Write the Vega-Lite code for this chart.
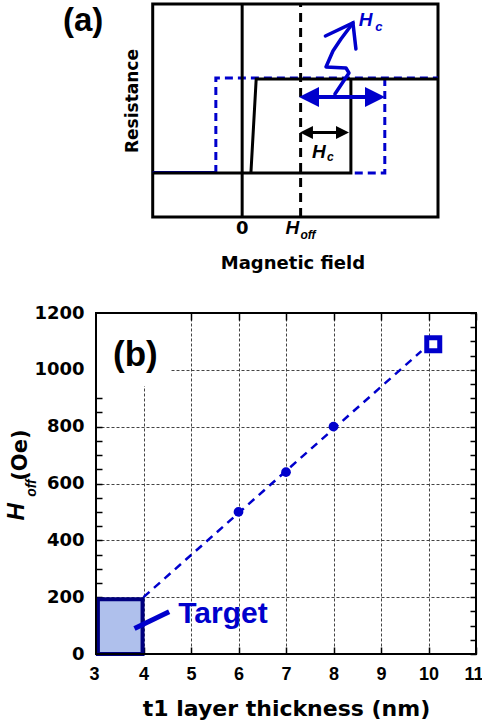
{
  "$schema": "https://vega.github.io/schema/vega-lite/v6.json",
  "background": "white",
  "padding": {"left": 4, "top": 2, "right": 0, "bottom": 4},
  "bounds": "flush",
  "spacing": 96,
  "config": {"view": {"stroke": null}},
  "vconcat": [
    {
      "width": 380,
      "height": 213,
      "encoding": {
        "x": {"field": "x", "type": "quantitative", "scale": {"domain": [-2.5, 4.0], "nice": false, "zero": false}, "axis": null},
        "y": {"field": "y", "type": "quantitative", "scale": {"domain": [-0.47, 1.8], "nice": false, "zero": false}, "axis": null}
      },
      "layer": [
        {
          "data": {"values": [{"x": -1.53, "x2": 3.35, "y": -0.47, "y2": 1.8}]},
          "mark": {"type": "rect", "fill": "transparent", "stroke": "black", "strokeWidth": 3},
          "encoding": {"x2": {"field": "x2"}, "y2": {"field": "y2"}}
        },
        {
          "data": {"values": [{"x": -1.53, "y": 0.008, "o": 1}, {"x": -0.45, "y": 0.008, "o": 2}]},
          "mark": {"type": "line", "color": "#0000cc", "strokeWidth": 2.5},
          "encoding": {"order": {"field": "o", "type": "quantitative"}}
        },
        {
          "data": {"values": [
            {"seg": "left", "o": 1, "x": -0.45, "y": 0.0},
            {"seg": "left", "o": 2, "x": -0.45, "y": 1.012},
            {"seg": "left", "o": 3, "x": 3.35, "y": 1.012},
            {"seg": "right", "o": 1, "x": 2.44, "y": 1.012},
            {"seg": "right", "o": 2, "x": 2.44, "y": 0.0},
            {"seg": "right", "o": 3, "x": 1.86, "y": 0.0}
          ]},
          "mark": {"type": "line", "color": "#0000cc", "strokeWidth": 3, "strokeDash": [8, 5]},
          "encoding": {"detail": {"field": "seg"}, "order": {"field": "o", "type": "quantitative"}}
        },
        {
          "data": {"values": [{"x": 0, "y": -0.47, "y2": 1.8}]},
          "mark": {"type": "rule", "color": "black", "strokeWidth": 3},
          "encoding": {"y2": {"field": "y2"}}
        },
        {
          "data": {"values": [{"x": 1, "y": -0.47, "y2": 1.8}]},
          "mark": {"type": "rule", "color": "black", "strokeWidth": 3, "strokeDash": [9, 6]},
          "encoding": {"y2": {"field": "y2"}}
        },
        {
          "data": {"values": [
            {"seg": "a", "o": 1, "x": -1.53, "y": 0},
            {"seg": "a", "o": 2, "x": 1.86, "y": 0},
            {"seg": "a", "o": 3, "x": 1.86, "y": 1},
            {"seg": "b", "o": 1, "x": 3.35, "y": 1},
            {"seg": "b", "o": 2, "x": 0.24, "y": 1},
            {"seg": "b", "o": 3, "x": 0.15, "y": 0}
          ]},
          "mark": {"type": "line", "color": "black", "strokeWidth": 3},
          "encoding": {"detail": {"field": "seg"}, "order": {"field": "o", "type": "quantitative"}}
        },
        {
          "data": {"values": [{"x": 1.1, "x2": 2.3, "y": 0.809}]},
          "mark": {"type": "rule", "color": "#0000cc", "strokeWidth": 4},
          "encoding": {"x2": {"field": "x2"}}
        },
        {
          "data": {"values": [{"x": 1.143, "y": 0.809}]},
          "mark": {"type": "point", "shape": "M1,-1L-1,0L1,1Z", "size": 400, "filled": true, "color": "#0000cc", "opacity": 1}
        },
        {
          "data": {"values": [{"x": 2.272, "y": 0.809}]},
          "mark": {"type": "point", "shape": "M-1,-1L1,0L-1,1Z", "size": 400, "filled": true, "color": "#0000cc", "opacity": 1}
        },
        {
          "data": {"values": [{"x": 1.08, "x2": 1.75, "y": 0.43}]},
          "mark": {"type": "rule", "color": "black", "strokeWidth": 3},
          "encoding": {"x2": {"field": "x2"}}
        },
        {
          "data": {"values": [{"x": 1.10, "y": 0.43}]},
          "mark": {"type": "point", "shape": "M1,-1L-1,0L1,1Z", "size": 169, "filled": true, "color": "black", "opacity": 1}
        },
        {
          "data": {"values": [{"x": 1.716, "y": 0.43}]},
          "mark": {"type": "point", "shape": "M-1,-1L1,0L-1,1Z", "size": 169, "filled": true, "color": "black", "opacity": 1}
        },
        {
          "data": {"values": [
            {"o": 1, "x": 1.587, "y": 0.841},
            {"o": 2, "x": 1.827, "y": 1.065},
            {"o": 3, "x": 1.776, "y": 1.118},
            {"o": 4, "x": 1.434, "y": 1.129},
            {"o": 5, "x": 1.553, "y": 1.299},
            {"o": 6, "x": 1.690, "y": 1.427},
            {"o": 7, "x": 1.895, "y": 1.598}
          ]},
          "mark": {"type": "line", "color": "#0000cc", "strokeWidth": 3.5, "strokeCap": "round", "strokeJoin": "round"},
          "encoding": {"order": {"field": "o", "type": "quantitative"}}
        },
        {
          "data": {"values": [
            {"o": 1, "x": 1.424, "y": 1.459},
            {"o": 2, "x": 1.895, "y": 1.598},
            {"o": 3, "x": 1.946, "y": 1.32}
          ]},
          "mark": {"type": "line", "color": "#0000cc", "strokeWidth": 3.5, "strokeCap": "round", "strokeJoin": "miter"},
          "encoding": {"order": {"field": "o", "type": "quantitative"}}
        },
        {
          "data": {"values": [{"label": "(a)", "x": -2.72, "y": 1.515}]},
          "mark": {"type": "text", "font": "Liberation Sans", "fontWeight": "bold", "fontSize": 33, "align": "center", "baseline": "alphabetic", "color": "black"},
          "encoding": {"text": {"field": "label"}}
        },
        {
          "data": {"values": [{"label": "Resistance", "x": -1.78, "y": 0.766}]},
          "mark": {"type": "text", "font": "DejaVu Sans", "fontWeight": "bold", "fontSize": 17, "angle": 270, "align": "center", "baseline": "alphabetic", "color": "black"},
          "encoding": {"text": {"field": "label"}}
        },
        {
          "data": {"values": [{"label": "0", "x": 0, "y": -0.651}, {"label": "Magnetic field", "x": 0.869, "y": -1.024}]},
          "mark": {"type": "text", "font": "DejaVu Sans", "fontWeight": "bold", "fontSize": 18, "align": "center", "baseline": "alphabetic", "color": "black"},
          "encoding": {"text": {"field": "label"}}
        },
        {
          "data": {"values": [{"label": "H", "x": 0.86, "y": -0.651}, {"label": "H", "x": 1.313, "y": 0.159}]},
          "mark": {"type": "text", "font": "Liberation Sans", "fontWeight": "bold", "fontStyle": "italic", "fontSize": 19, "align": "center", "baseline": "alphabetic", "color": "black"},
          "encoding": {"text": {"field": "label"}}
        },
        {
          "data": {"values": [{"label": "off", "x": 1.126, "y": -0.705}, {"label": "c", "x": 1.51, "y": 0.127}]},
          "mark": {"type": "text", "font": "Liberation Sans", "fontWeight": "bold", "fontStyle": "italic", "fontSize": 12, "align": "center", "baseline": "alphabetic", "color": "black"},
          "encoding": {"text": {"field": "label"}}
        },
        {
          "data": {"values": [{"label": "H", "x": 2.11, "y": 1.566}]},
          "mark": {"type": "text", "font": "Liberation Sans", "fontWeight": "bold", "fontStyle": "italic", "fontSize": 19, "align": "center", "baseline": "alphabetic", "color": "#0000cc"},
          "encoding": {"text": {"field": "label"}}
        },
        {
          "data": {"values": [{"label": "c", "x": 2.34, "y": 1.512}]},
          "mark": {"type": "text", "font": "Liberation Sans", "fontWeight": "bold", "fontStyle": "italic", "fontSize": 13, "align": "center", "baseline": "alphabetic", "color": "#0000cc"},
          "encoding": {"text": {"field": "label"}}
        }
      ]
    },
    {
      "width": 380,
      "height": 341,
      "resolve": {"axis": {"x": "independent", "y": "independent"}},
      "encoding": {
        "x": {"field": "t", "type": "quantitative", "scale": {"domain": [3, 11], "nice": false, "zero": false}, "axis": null},
        "y": {"field": "h", "type": "quantitative", "scale": {"domain": [0, 1200], "nice": false, "zero": false}, "axis": null}
      },
      "layer": [
        {
          "data": {"values": [{"t": 6, "h": 500}, {"t": 7, "h": 640}, {"t": 8, "h": 800}]},
          "mark": {"type": "point", "opacity": 0},
          "encoding": {
            "x": {"field": "t", "type": "quantitative", "scale": {"domain": [3, 11], "nice": false, "zero": false},
              "axis": {"orient": "bottom", "values": [3, 4, 5, 6, 7, 8, 9, 10, 11], "format": "d", "grid": true, "gridDash": [3, 2], "gridColor": "#444444", "gridWidth": 1,
                "domain": false, "ticks": true, "tickSize": -7, "tickColor": "black", "tickWidth": 1.5,
                "labelFont": "Liberation Sans", "labelFontWeight": "bold", "labelFontSize": 18, "labelColor": "black", "labelPadding": 18, "labelFlush": true, "labelFlushOffset": 7, "labelOverlap": false,
                "title": "t1 layer thickness (nm)", "titleFont": "DejaVu Sans", "titleFontWeight": "bold", "titleFontSize": 22, "titleColor": "black", "titlePadding": 15}},
            "y": {"field": "h", "type": "quantitative", "scale": {"domain": [0, 1200], "nice": false, "zero": false},
              "axis": {"orient": "left", "values": [0, 50, 100, 150, 200, 250, 300, 350, 400, 450, 500, 550, 600, 650, 700, 750, 800, 850, 900, 950, 1000, 1050, 1100, 1150, 1200],
                "format": "d",
                "grid": true, "gridDash": [3, 2], "gridColor": "#444444", "gridWidth": 1,
                "gridOpacity": {"condition": {"test": "datum.value % 200 === 0", "value": 1}, "value": 0},
                "domain": false, "ticks": true, "tickSize": -6, "tickColor": "black", "tickWidth": 1.5,
                "labelExpr": "datum.value % 200 === 0 ? datum.label : ''",
                "labelFont": "DejaVu Sans", "labelFontWeight": "bold", "labelFontSize": 18, "labelColor": "black", "labelPadding": 18, "labelFlush": false, "labelOverlap": false,
                "title": null}}
          }
        },
        {
          "data": {"values": [{"t": 6, "h": 500}, {"t": 7, "h": 640}, {"t": 8, "h": 800}]},
          "mark": {"type": "point", "opacity": 0},
          "encoding": {
            "x": {"field": "t", "type": "quantitative", "scale": {"domain": [3, 11], "nice": false, "zero": false},
              "axis": {"orient": "top", "values": [3, 4, 5, 6, 7, 8, 9, 10, 11], "grid": false, "domain": false, "labels": false, "ticks": true, "tickSize": -7, "tickColor": "black", "tickWidth": 1.5, "title": null}},
            "y": {"field": "h", "type": "quantitative", "scale": {"domain": [0, 1200], "nice": false, "zero": false},
              "axis": {"orient": "right", "values": [0, 50, 100, 150, 200, 250, 300, 350, 400, 450, 500, 550, 600, 650, 700, 750, 800, 850, 900, 950, 1000, 1050, 1100, 1150, 1200],
                "grid": false, "domain": false, "labels": false, "ticks": true, "tickSize": -6, "tickColor": "black", "tickWidth": 1.5, "title": null}}
          }
        },
        {
          "data": {"values": [{"t": 3, "t2": 4.58, "h": 943, "h2": 1200}]},
          "mark": {"type": "rect", "fill": "white", "stroke": null},
          "encoding": {"x2": {"field": "t2"}, "y2": {"field": "h2"}}
        },
        {
          "data": {"values": [{"t": 3.04, "t2": 3.98, "h": 0, "h2": 193}]},
          "mark": {"type": "rect", "fill": "#afc0ec", "stroke": "#000080", "strokeWidth": 4},
          "encoding": {"x2": {"field": "t2"}, "y2": {"field": "h2"}}
        },
        {
          "data": {"values": [{"t": 4.0, "h": 200, "o": 1}, {"t": 9.85, "h": 1066, "o": 2}]},
          "mark": {"type": "line", "color": "#0000cc", "strokeWidth": 2.5, "strokeDash": [8, 6]},
          "encoding": {"order": {"field": "o", "type": "quantitative"}}
        },
        {
          "data": {"values": [{"t": 3.81, "t2": 4.54, "h": 90, "h2": 149}]},
          "mark": {"type": "rule", "color": "#0000cc", "strokeWidth": 5},
          "encoding": {"x2": {"field": "t2"}, "y2": {"field": "h2"}}
        },
        {
          "data": {"values": [{"t": 6, "h": 500}, {"t": 7, "h": 640}, {"t": 8, "h": 800}]},
          "mark": {"type": "point", "filled": true, "color": "#0000cc", "size": 95, "opacity": 1}
        },
        {
          "data": {"values": [{"t": 10.1, "h": 1090}]},
          "mark": {"type": "point", "shape": "square", "size": 169, "filled": true, "fill": "white", "stroke": "#0000cc", "strokeWidth": 5, "opacity": 1}
        },
        {
          "data": {"values": [{"label": "(b)", "t": 3.358, "h": 1013}]},
          "mark": {"type": "text", "font": "Liberation Sans", "fontWeight": "bold", "fontSize": 35, "align": "left", "baseline": "alphabetic", "color": "black"},
          "encoding": {"text": {"field": "label"}}
        },
        {
          "data": {"values": [{"label": "Target", "t": 4.73, "h": 109}]},
          "mark": {"type": "text", "font": "Liberation Sans", "fontWeight": "bold", "fontSize": 30, "align": "left", "baseline": "alphabetic", "color": "#0000cc"},
          "encoding": {"text": {"field": "label"}}
        },
        {
          "data": {"values": [{"label": "H", "t": 1.484, "h": 500}]},
          "mark": {"type": "text", "font": "Liberation Sans", "fontWeight": "bold", "fontStyle": "italic", "fontSize": 24, "angle": 270, "align": "center", "baseline": "alphabetic", "color": "black"},
          "encoding": {"text": {"field": "label"}}
        },
        {
          "data": {"values": [{"label": "off", "t": 1.737, "h": 584}]},
          "mark": {"type": "text", "font": "Liberation Sans", "fontWeight": "bold", "fontStyle": "italic", "fontSize": 14, "angle": 270, "align": "center", "baseline": "alphabetic", "color": "black"},
          "encoding": {"text": {"field": "label"}}
        },
        {
          "data": {"values": [{"label": "(Oe)", "t": 1.547, "h": 700}]},
          "mark": {"type": "text", "font": "DejaVu Sans", "fontWeight": "bold", "fontSize": 21, "angle": 270, "align": "center", "baseline": "alphabetic", "color": "black"},
          "encoding": {"text": {"field": "label"}}
        },
        {
          "data": {"values": [{"t": 3, "t2": 11, "h": 0, "h2": 1200}]},
          "mark": {"type": "rect", "fill": "transparent", "stroke": "black", "strokeWidth": 2},
          "encoding": {"x2": {"field": "t2"}, "y2": {"field": "h2"}}
        }
      ]
    }
  ]
}
